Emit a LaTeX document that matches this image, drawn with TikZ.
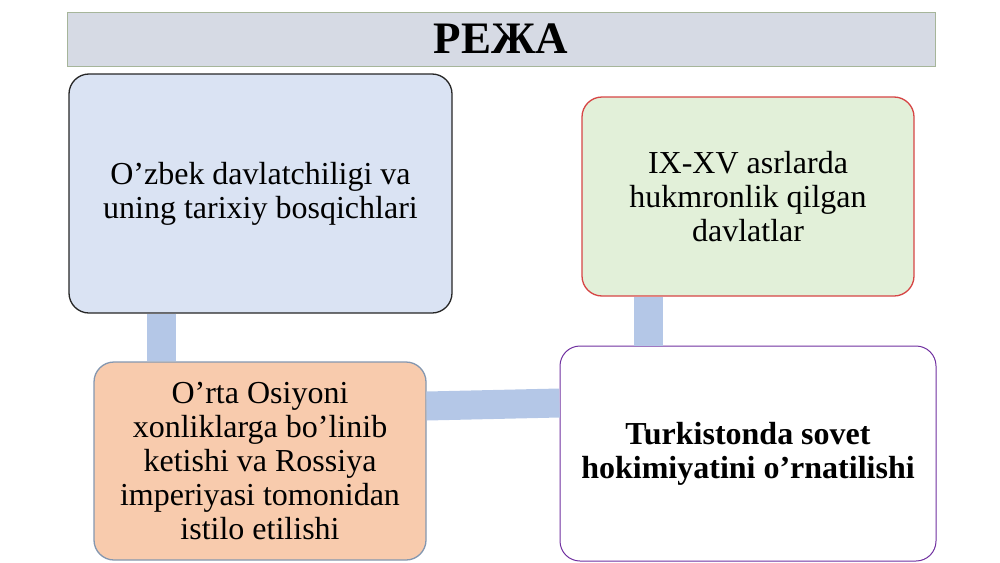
\documentclass[tikz,border=0pt]{standalone}
\usepackage{fontspec}
\setmainfont{Liberation Serif}
\definecolor{titlefill}{HTML}{D6DAE4}
\definecolor{titleborder}{HTML}{A6B59A}
\definecolor{bluefill}{HTML}{DAE3F3}
\definecolor{blueborder}{HTML}{262626}
\definecolor{greenfill}{HTML}{E2F0D9}
\definecolor{redborder}{HTML}{D64545}
\definecolor{peachfill}{HTML}{F8CBAD}
\definecolor{peachborder}{HTML}{8497B0}
\definecolor{purpleborder}{HTML}{7030A0}
\definecolor{connc}{HTML}{B4C7E7}
\begin{document}
\begin{tikzpicture}[x=1pt,y=-1pt,
  box/.style={rectangle, rounded corners=20pt, line width=1.3pt, align=center,
    font=\fontsize{32}{34}\selectfont, inner sep=0pt},
  conn/.style={draw=connc, line width=29pt}]
\useasboundingbox (0,0) rectangle (1000,562);
\node[draw=titleborder, fill=titlefill, minimum width=868pt, minimum height=54pt,
  line width=1pt, inner sep=0pt, font=\fontsize{45}{50}\selectfont\bfseries] (title) at (501,39) {РЕЖА};
\node[box, draw=blueborder, fill=bluefill, minimum width=383pt, minimum height=239pt] (b1) at (260.5,193.5)
  {O’zbek davlatchiligi va\\uning tarixiy bosqichlari};
\node[box, draw=redborder, fill=greenfill, minimum width=332pt, minimum height=199pt] (b2) at (748,196.5)
  {IX-XV asrlarda\\hukmronlik qilgan\\davlatlar};
\node[box, draw=peachborder, fill=peachfill, minimum width=332pt, minimum height=198pt] (b3) at (260,461)
  {O’rta Osiyoni\\xonliklarga bo’linib\\ketishi va Rossiya\\imperiyasi tomonidan\\istilo etilishi};
\node[box, draw=purpleborder, fill=white, line width=1pt, minimum width=376pt, minimum height=215pt,
  font=\fontsize{32}{34}\selectfont\bfseries] (b4) at (748,453.5)
  {Turkistonda sovet\\hokimiyatini o’rnatilishi};
\coordinate (v1) at (161.5,0);
\coordinate (v2) at (648,0);
\coordinate (h1) at (0,406);
\coordinate (h2) at (0,403);
\draw[conn] (b1.south -| v1) -- (b3.north -| v1);
\draw[conn] (b2.south -| v2) -- (b4.north -| v2);
\draw[conn] (b3.east |- h1) -- (b4.west |- h2);
\end{tikzpicture}
\end{document}
